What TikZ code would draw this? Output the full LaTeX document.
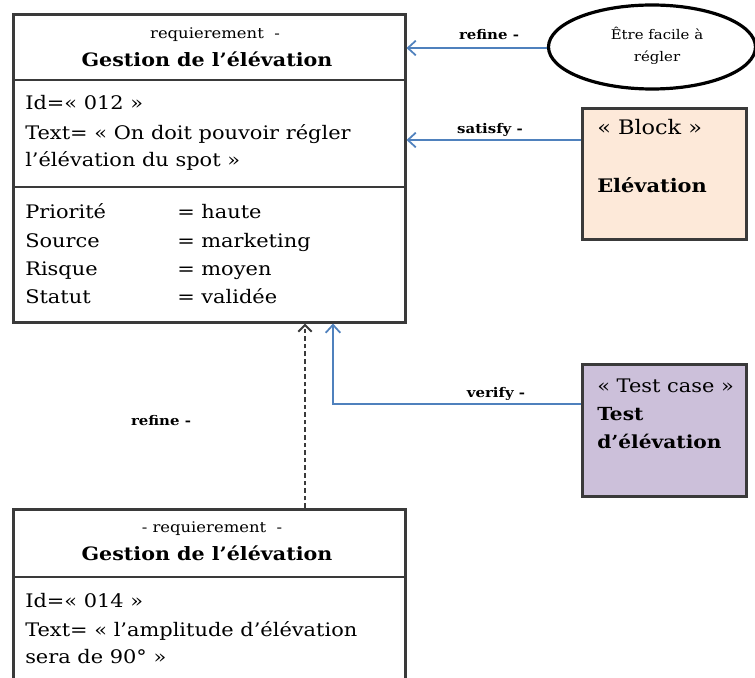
\documentclass[tikz,border=0pt]{standalone}
\usepackage{fontspec}
\setmainfont{DejaVu Serif}[FakeStretch=1.12]
\usetikzlibrary{arrows.meta,shapes.geometric}
\definecolor{linkblue}{HTML}{4F81BD}
\definecolor{boxline}{HTML}{3A3A3A}
\definecolor{blockfill}{HTML}{FDE9D9}
\definecolor{testfill}{HTML}{CCC0DA}
\tikzset{
  box/.style={draw=boxline, line width=1.9pt, rectangle, inner sep=0pt, anchor=north west},
  body/.style={anchor=base west, inner sep=0pt, font=\fontsize{14}{15}\selectfont},
  title/.style={anchor=base, inner sep=0pt, font=\bfseries\fontsize{13.8}{15}\selectfont},
  stereo/.style={anchor=base, inner sep=0pt, font=\fontsize{11}{12}\selectfont},
  lbl/.style={anchor=base, inner sep=0pt, font=\bfseries\fontsize{10}{12}\selectfont},
  side/.style={anchor=base west, inner sep=0pt, font=\fontsize{14}{16}\selectfont},
  sideb/.style={anchor=base west, inner sep=0pt, font=\bfseries\fontsize{13.5}{16}\selectfont},
  link/.style={draw=linkblue, line width=1.3pt, -{Straight Barb[length=6pt,width=11pt,line width=1.3pt]}},
  dlink/.style={draw=boxline, line width=1.9pt, dash pattern=on 3.5pt off 2.2pt, -{Straight Barb[length=5pt,width=10pt,line width=1.5pt]}},
}
\begin{document}
\begin{tikzpicture}[x=0.75pt,y=-0.75pt]
\useasboundingbox (0,0) rectangle (755,677);
\clip (0,0) rectangle (755,677);
\fill[white] (0,0) rectangle (755,677);

% top requirement box
\node[box, minimum width=392*0.75pt, minimum height=308*0.75pt] (req) at (12,13) {};
\draw[boxline, line width=1.9pt] (12,80) -- (404,80);
\draw[boxline, line width=1.9pt] (12,187) -- (404,187);
\node[stereo] (reqst) at (215,39) {requierement \ -};
\node[title] (reqti) at (207,67) {Gestion de l’élévation};
\node[body] (reqid) at (25,110) {Id=« 012 »};
\node[body] (reqtx1) at (25,140) {Text= « On doit pouvoir régler};
\node[body] (reqtx2) at (25,167) {l’élévation du spot »};
\node[body] (p1) at (25,218) {Priorité};
\node[body] (p2) at (25,247) {Source};
\node[body] (p3) at (25,275) {Risque};
\node[body] (p4) at (25,303) {Statut};
\node[body] (v1) at (177,218) {= haute};
\node[body] (v2) at (177,247) {= marketing};
\node[body] (v3) at (177,275) {= moyen};
\node[body] (v4) at (177,303) {= validée};

% ellipse
\node[ellipse, draw=black, line width=2.4pt, minimum width=207*0.75pt, minimum height=84*0.75pt, inner sep=0pt] (ell) at (652,47) {};
\node[anchor=base, inner sep=0pt, font=\fontsize{10}{12}\selectfont] (ellt1) at (657,40) {Être facile à};
\node[anchor=base, inner sep=0pt, font=\fontsize{10}{12}\selectfont] (ellt2) at (657,62) {régler};

% block
\node[box, fill=blockfill, minimum width=164*0.75pt, minimum height=131*0.75pt] (blk) at (581,107) {};
\node[side, font=\fontsize{15}{16}\selectfont] (blk1) at (597,135) {« Block »};
\node[sideb, font=\bfseries\fontsize{14}{16}\selectfont] (blk2) at (597,192) {Elévation};

% test case
\node[box, fill=testfill, minimum width=164*0.75pt, minimum height=132*0.75pt] (tst) at (581,363) {};
\node[side] (tst1) at (597,392) {« Test case »};
\node[sideb] (tst2) at (597,420) {Test};
\node[sideb] (tst3) at (597,448) {d’élévation};

% bottom requirement box
\node[box, minimum width=392*0.75pt, minimum height=200*0.75pt] (req2) at (12,508) {};
\draw[boxline, line width=1.9pt] (12,577) -- (404,577);
\node[stereo] (req2st) at (212,532) {- requierement \ -};
\node[title] (req2ti) at (207,560) {Gestion de l’élévation};
\node[body] (req2id) at (25,607) {Id=« 014 »};
\node[body] (req2tx1) at (25,636) {Text= « l’amplitude d’élévation};
\node[body] (req2tx2) at (25,663) {sera de 90° »};

% connectors
\draw[link] (ell.west |- 0,48) -- (req.east |- 0,48);
\node[lbl] (lref) at (489,40) {refine -};
\draw[link] (blk.west |- 0,140) -- (req.east |- 0,140);
\node[lbl] (lsat) at (490,134) {satisfy -};
\coordinate (vcorner) at (333,404);
\draw[link] (tst.west |- vcorner) -- (vcorner) -- (vcorner |- req.south);
\node[lbl] (lver) at (496,397) {verify -};
\draw[dlink] (req2.north -| 305,0) -- (req.south -| 305,0);
\node[lbl] (lref2) at (161,425) {refine -};
\end{tikzpicture}
\end{document}
